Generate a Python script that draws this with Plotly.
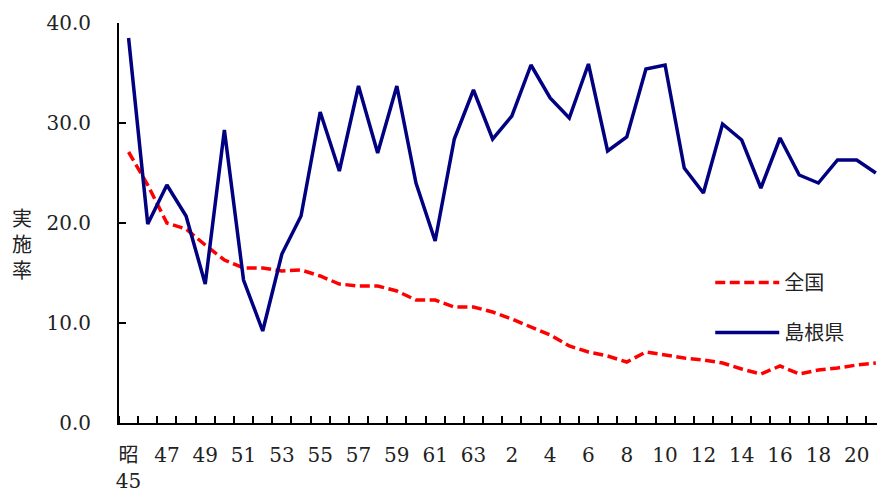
import plotly.graph_objects as go

# 年度ラベル(昭和45年〜平成21年)
years = ["昭45", "46", "47", "48", "49", "50", "51", "52", "53", "54", "55", "56", "57", "58",
         "59", "60", "61", "62", "63", "元", "2", "3", "4", "5", "6", "7", "8", "9", "10",
         "11", "12", "13", "14", "15", "16", "17", "18", "19", "20", "21"]

# 実施率
zenkoku = [27.1, 23.8, 20.0, 19.4, 17.8, 16.3, 15.5, 15.5, 15.2, 15.3, 14.7, 13.9, 13.7, 13.7,
           13.2, 12.3, 12.3, 11.6, 11.6, 11.1, 10.4, 9.6, 8.8, 7.7, 7.1, 6.7, 6.1, 7.1, 6.8,
           6.5, 6.3, 6.0, 5.4, 4.9, 5.7, 4.9, 5.3, 5.5, 5.8, 6.0]
shimane = [38.5, 19.9, 23.8, 20.7, 13.9, 29.3, 14.3, 9.2, 16.9, 20.7, 31.1, 25.2, 33.7, 27.0,
           33.7, 24.0, 18.2, 28.4, 33.3, 28.4, 30.7, 35.8, 32.5, 30.5, 35.9, 27.2, 28.6, 35.4,
           35.8, 25.5, 23.0, 29.9, 28.3, 23.5, 28.5, 24.8, 24.0, 26.3, 26.3, 25.0]

x_tick_labels = ["昭<br>45", "47", "49", "51", "53", "55", "57", "59", "61", "63",
                 "2", "4", "6", "8", "10", "12", "14", "16", "18", "20"]
y_tick_vals = [0, 10, 20, 30, 40]
y_tick_text = ["0.0", "10.0", "20.0", "30.0", "40.0"]

idx = list(range(len(years)))
FONT = "DejaVu Serif, Noto Sans CJK JP"

fig = go.Figure()
fig.add_trace(go.Scatter(
    x=idx, y=zenkoku, name="全国", mode="lines", legendgroup="a",
    line=dict(color="#FF0000", width=3.5, dash="10px,4.5px"),
    customdata=years,
))
fig.add_trace(go.Scatter(
    x=idx, y=shimane, name="島根県", mode="lines", legendgroup="b",
    line=dict(color="#000080", width=3.5),
    customdata=years,
))

fig.update_layout(
    width=877, height=497,
    margin=dict(l=119, r=0, t=23, b=74),
    paper_bgcolor="white", plot_bgcolor="white",
    font=dict(family=FONT, size=20, color="#222222"),
    showlegend=True,
    legend=dict(
        x=0.78, y=0.40, xanchor="left", yanchor="top",
        bgcolor="rgba(0,0,0,0)", itemwidth=64, tracegroupgap=21,
        font=dict(family=FONT, size=20, color="#222222"),
        traceorder="grouped",
    ),
    xaxis=dict(
        range=[-0.5, 39.06],
        tickmode="array", tickvals=idx[::2], ticktext=x_tick_labels,
        ticks="", showgrid=False, zeroline=False,
        showline=True, linecolor="black", linewidth=2,
        ticklabelstandoff=13,
        tickfont=dict(family=FONT, size=20, color="#222222"),
        minor=dict(tickmode="array", tickvals=[i - 0.5 for i in idx] + [len(idx) - 0.5],
                   ticks="inside", ticklen=7, tickwidth=1.5, tickcolor="black", showgrid=False),
    ),
    yaxis=dict(
        range=[0, 40],
        tickmode="array", tickvals=y_tick_vals, ticktext=y_tick_text,
        ticks="inside", ticklen=7, tickwidth=1.5, tickcolor="black",
        showgrid=False, zeroline=False,
        showline=True, linecolor="black", linewidth=2,
        ticklabelstandoff=22,
        tickfont=dict(family=FONT, size=20, color="#222222"),
    ),
    annotations=[dict(
        text="実<br>施<br>率", xref="paper", yref="paper",
        x=-0.128, y=0.445, xanchor="center", yanchor="middle",
        showarrow=False, textangle=0,
        font=dict(family=FONT, size=20, color="#222222"),
    )],
)

fig.write_html("out.html", config={"displayModeBar": False},
               post_script="document.body.style.margin='0';document.body.style.overflow='hidden';")
